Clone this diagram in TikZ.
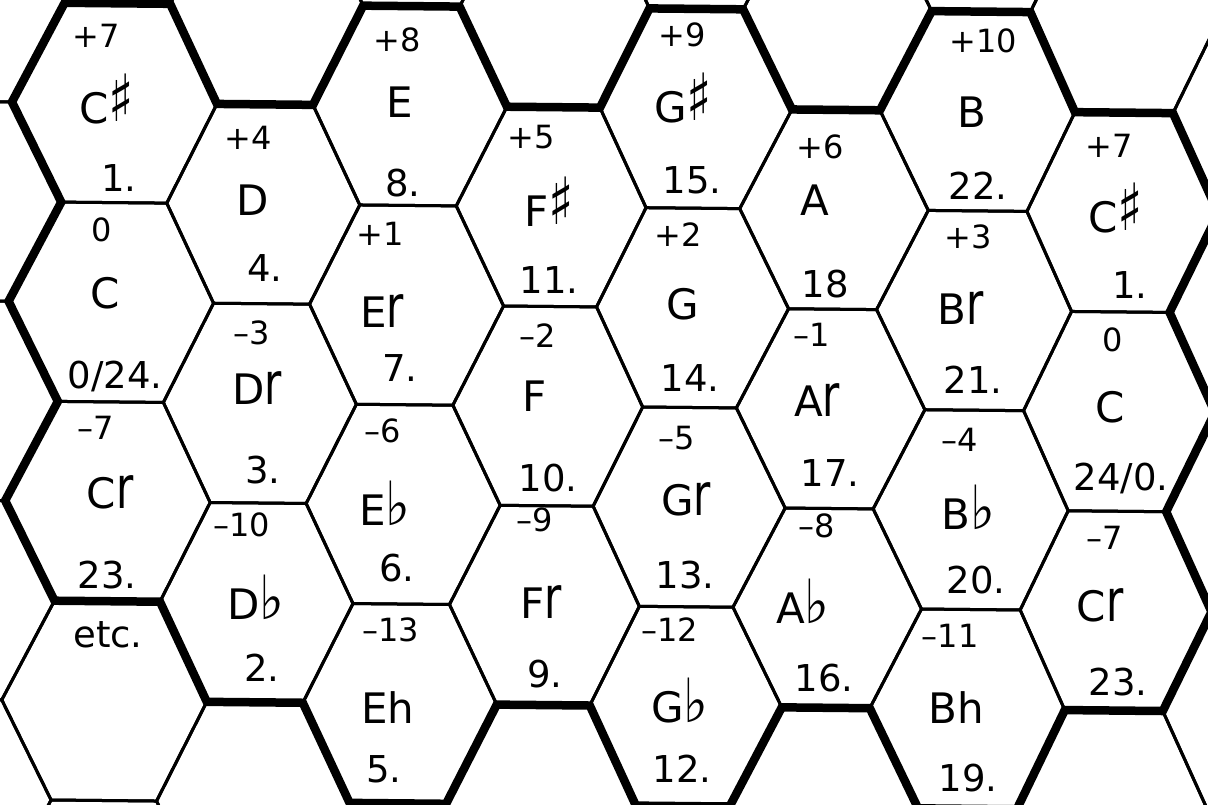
\documentclass[tikz,border=0pt]{standalone}
\usepackage{fontspec}
\usepackage{graphicx}
\setmainfont{DejaVu Sans}
\newcommand\halfflat{\scalebox{1}[1.4]{r}}
\newcommand\hsharp{\raisebox{0.05em}{\scalebox{1.25}[1.55]{♯}}}
\newcommand\fflat{\scalebox{1.25}[1.45]{♭}}
\begin{document}
\begin{tikzpicture}[x=1pt,y=-1pt,
  thinline/.style={line width=3pt, line join=miter},
  thickline/.style={line width=8.5pt, line join=miter},
  topnum/.style={inner sep=0pt, font=\fontsize{32}{32}\selectfont},
  notename/.style={inner sep=0pt, font=\fontsize{42}{42}\selectfont},
  botnum/.style={inner sep=0pt, font=\fontsize{37}{37}\selectfont}]
\useasboundingbox (0,0) rectangle (1208,804);
\fill[white] (0,0) rectangle (1208,804);
\begin{scope}
\clip (0,0) rectangle (1208,804);
\foreach \k/\s in {0/-133,1/-86,2/12,3/63,4/168.5,5/217,6/313,7/361.5,8/458,9/507,10/600,11/647.8,12/741.5,13/792,14/880,15/930,16/1028.7,17/1075,18/1173,19/1220,20/1318,21/1365}{
  \foreach \J in {0,...,12}{
    \pgfmathsetmacro\Y{3.3+99.65*(\J-2)}
    \pgfmathsetmacro\xx{\s-0.017*(\Y-100)}
    \pgfmathsetmacro\yy{\Y+0.0096*(\s-115)}
    \coordinate (v\k-\J) at (\xx,\yy);
  }
}
\foreach \i in {0,...,9}{
  \pgfmathtruncatemacro\cLa{2*\i}
  \pgfmathtruncatemacro\cla{2*\i+1}
  \pgfmathtruncatemacro\cra{2*\i+2}
  \pgfmathtruncatemacro\cRa{2*\i+3}
  \ifodd\i \def\tlist{0,2,4,6,8,10}\else\def\tlist{1,3,5,7,9}\fi
  \foreach \T in \tlist {
    \pgfmathtruncatemacro\Tm{\T+1}
    \pgfmathtruncatemacro\Tb{\T+2}
    \draw[thinline] (v\cla-\T) -- (v\cra-\T) -- (v\cRa-\Tm) -- (v\cra-\Tb) -- (v\cla-\Tb) -- (v\cLa-\Tm) -- cycle;
  }
}
\draw[thickline] (v3-2) -- (v4-2) -- (v5-3) -- (v6-3) -- (v7-2) -- (v8-2) -- (v9-3) -- (v10-3) -- (v11-2) -- (v12-2) -- (v13-3) -- (v14-3) -- (v15-2) -- (v16-2) -- (v17-3) -- (v18-3) -- (v19-4) -- (v18-5) -- (v19-6) -- (v18-7) -- (v19-8) -- (v18-9) -- (v17-9) -- (v16-10) -- (v15-10) -- (v14-9) -- (v13-9) -- (v12-10) -- (v11-10) -- (v10-9) -- (v9-9) -- (v8-10) -- (v7-10) -- (v6-9) -- (v5-9) -- (v4-8) -- (v3-8) -- (v2-7) -- (v3-6) -- (v2-5) -- (v3-4) -- (v2-3) -- cycle;
\end{scope}
% column 1
\node[topnum] (a1) at (96,36) {+7};
\node[notename] (b1) at (107,99) {C\hsharp};
\node[botnum] (c1) at (119,178) {1.};
\node[topnum] (a2) at (102,230) {0};
\node[notename] (b2) at (105,293) {C};
\node[botnum] (c2) at (115,376) {0/24.};
\node[topnum] (a3) at (96,428) {–7};
\node[notename] (b3) at (110,492) {C\halfflat};
\node[botnum] (c3) at (107,575) {23.};
\node[botnum] (e4) at (108,635) {etc.};
% column 2
\node[topnum] (a5) at (248,138) {+4};
\node[notename] (b5) at (253,200) {D};
\node[botnum] (c5) at (265,268) {4.};
\node[topnum] (a6) at (252,333) {–3};
\node[notename] (b6) at (257,388) {D\halfflat};
\node[botnum] (c6) at (263,470) {3.};
\node[topnum] (a7) at (242,525) {–10};
\node[notename] (b7) at (256,597) {D\fflat};
\node[botnum] (c7) at (262,668) {2.};
% column 3
\node[topnum] (a8) at (397,40) {+8};
\node[notename] (b8) at (400,102) {E};
\node[botnum] (c8) at (403,183) {8.};
\node[topnum] (a9) at (380,234) {+1};
\node[notename] (b9) at (382,311) {E\halfflat};
\node[botnum] (c9) at (400,368) {7.};
\node[topnum] (a10) at (383,431) {–6};
\node[notename] (b10) at (385,503) {E\fflat};
\node[botnum] (c10) at (397,568) {6.};
\node[topnum] (a11) at (391,630) {–13};
\node[notename] (b11) at (388,708) {Eh};
\node[botnum] (c11) at (384,769) {5.};
% column 4
\node[topnum] (a12) at (531,137) {+5};
\node[notename] (b12) at (549,202) {F\hsharp};
\node[botnum] (c12) at (549,280) {11.};
\node[topnum] (a13) at (538,336) {–2};
\node[notename] (b13) at (535,396) {F};
\node[botnum] (c13) at (548,478) {10.};
\node[topnum] (a14) at (535,520) {–9};
\node[notename] (b14) at (541,602) {F\halfflat};
\node[botnum] (c14) at (545,674) {9.};
% column 5
\node[topnum] (a15) at (682,35) {+9};
\node[notename] (b15) at (683,98) {G\hsharp};
\node[botnum] (c15) at (692,180) {15.};
\node[topnum] (a16) at (678,235) {+2};
\node[notename] (b16) at (683,304) {G};
\node[botnum] (c16) at (690,378) {14.};
\node[topnum] (a17) at (677,438) {–5};
\node[notename] (b17) at (686,499) {G\halfflat};
\node[botnum] (c17) at (685,575) {13.};
\node[topnum] (a18) at (670,630) {–12};
\node[notename] (b18) at (680,701) {G\fflat};
\node[botnum] (c18) at (682,769) {12.};
% column 6
\node[topnum] (a19) at (820,147) {+6};
\node[notename] (b19) at (815,200) {A};
\node[botnum] (c19) at (825,284) {18};
\node[topnum] (a20) at (812,335) {–1};
\node[notename] (b20) at (817,400) {A\halfflat};
\node[botnum] (c20) at (830,473) {17.};
\node[topnum] (a21) at (817,526) {–8};
\node[notename] (b21) at (803,601) {A\fflat};
\node[botnum] (c21) at (824,678) {16.};
% column 7
\node[topnum] (a22) at (983,41) {+10};
\node[notename] (b22) at (972,112) {B};
\node[botnum] (c22) at (978,186) {22.};
\node[topnum] (a23) at (968,237) {+3};
\node[notename] (b23) at (961,308) {B\halfflat};
\node[botnum] (c23) at (973,380) {21.};
\node[topnum] (a24) at (960,440) {–4};
\node[notename] (b24) at (968,507) {B\fflat};
\node[botnum] (c24) at (976,580) {20.};
\node[topnum] (a25) at (950,636) {–11};
\node[notename] (b25) at (956,708) {Bh};
\node[botnum] (c25) at (968,778) {19.};
% column 8
\node[topnum] (a26) at (1109,146) {+7};
\node[notename] (b26) at (1116,208) {C\hsharp};
\node[botnum] (c26) at (1130,285) {1.};
\node[topnum] (a27) at (1113,340) {0};
\node[notename] (b27) at (1110,407) {C};
\node[botnum] (c27) at (1121,478) {24/0.};
\node[topnum] (a28) at (1105,538) {–7};
\node[notename] (b28) at (1100,605) {C\halfflat};
\node[botnum] (c28) at (1118,682) {23.};
\end{tikzpicture}
\end{document}
